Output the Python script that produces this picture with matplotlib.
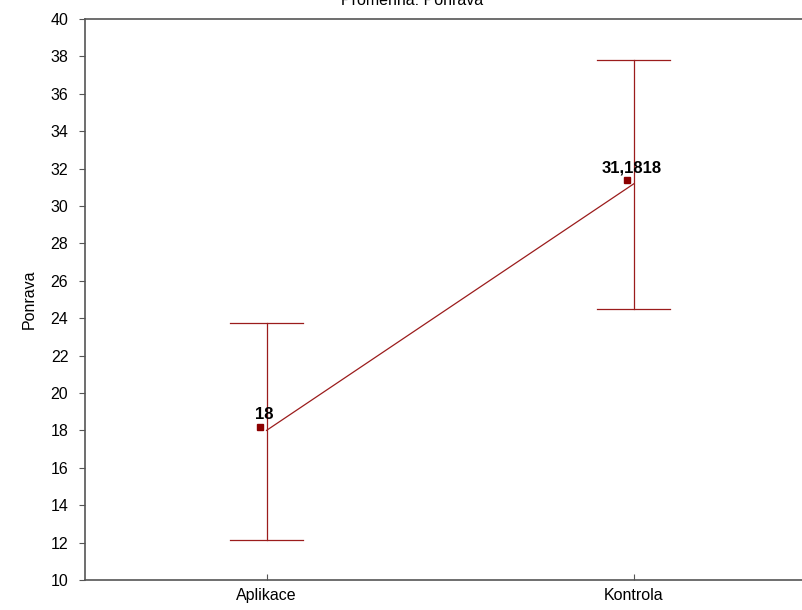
import matplotlib.pyplot as plt
import matplotlib.transforms as mtransforms

plt.rcParams['font.family'] = ['Liberation Sans', 'DejaVu Sans']

groups = ['Aplikace', 'Kontrola']
means = [18.0, 31.1818]
lower = [12.15, 24.5]
upper = [23.75, 37.8]
mean_labels = ['18', '31,1818']

line_col = '#9b1c1c'
mark_col = '#8b0000'


def main():
    fig = plt.figure(figsize=(8.02, 6.10), dpi=100)
    ax = fig.add_axes([0.106, 0.0492, 0.913, 0.9197])
    x = list(range(len(groups)))

    # whiskers with caps
    for xi, m, lo, hi in zip(x, means, lower, upper):
        ax.plot([xi, xi], [lo, hi], color=line_col, lw=0.9)
        ax.plot([xi - 0.1, xi + 0.1], [lo, lo], color=line_col, lw=0.9)
        ax.plot([xi - 0.1, xi + 0.1], [hi, hi], color=line_col, lw=0.9)

    ax.plot(x, means, color=line_col, lw=0.9)

    # point markers sit a little up and left of the mean
    off = mtransforms.offset_copy(ax.transData, fig=fig, x=-4.5, y=2.5, units='points')
    ax.plot(x, means, ls='none', marker='s', ms=4.5, color=mark_col, transform=off)
    txt = mtransforms.offset_copy(ax.transData, fig=fig, x=-1.5, y=6, units='points')
    for xi, m, lab in zip(x, means, mean_labels):
        ax.text(xi, m, lab, transform=txt, ha='center', va='bottom',
                fontsize=12, fontweight='bold', color='black')

    ax.set_xlim(-0.4945, 1.5)
    ax.set_ylim(10, 40)
    ax.set_yticks(range(10, 41, 2))
    ax.set_xticks(x)
    ax.set_xticklabels(groups)
    ax.tick_params(axis='y', direction='out', length=4, width=0.8, labelsize=11.5, pad=8, color='#555555')
    ax.tick_params(axis='x', direction='in', length=4, width=0.8, labelsize=11.5, pad=6, color='#555555')
    for s in ax.spines.values():
        s.set_color('#555555')
        s.set_linewidth(1.2)
    ax.set_ylabel('Ponrava', fontsize=11.5, labelpad=10)

    fig.text(412 / 802, 1 - 5 / 610, 'Proměnná: Ponrava', ha='center', va='baseline', fontsize=11.5)

    fig.savefig('out.png', dpi=100)


if __name__ == "__main__":
    main()
